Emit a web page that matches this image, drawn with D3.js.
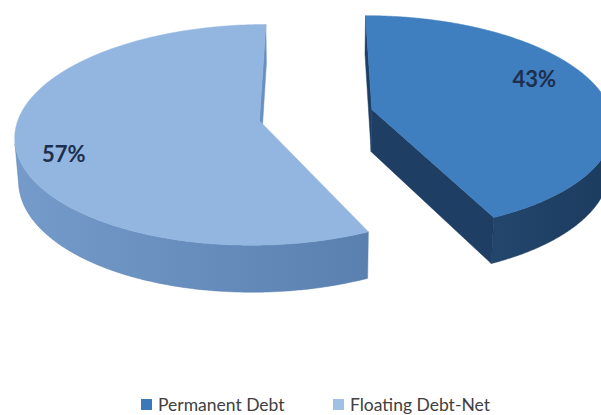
<!DOCTYPE html>
<html>
<head>
<meta charset="utf-8">
<script src="https://cdn.jsdelivr.net/npm/d3@7"></script>
<style>
  body { margin: 0; background: #fff; }
  svg { display: block; }
</style>
</head>
<body>
<div id="chart"></div>
<script>
// data
const categories = ["Permanent Debt", "Floating Debt-Net"];
const values = [43, 57];
const valueLabels = ["43%", "57%"];

const width = 601, height = 415;

// 3d view of the pie (radius = 1 unit)
const view = {
  cx: 316, cy: 115,        // screen position of pie centre (top face)
  scale: 240,              // px per radius unit at the centre
  dist: 7,                 // camera distance, radius units
  tilt: 26.5 * Math.PI / 180,
  thick: 0.2,
  explode: 0.24
};
const sinT = Math.sin(view.tilt), cosT = Math.cos(view.tilt);
const focal = view.scale * view.dist;
const cam = [0, view.dist * sinT, view.dist * cosT];

function depthOf(p) { return view.dist - p[1] * sinT - p[2] * cosT; }
function project(p) {
  const d = depthOf(p);
  return [view.cx + focal * p[0] / d, view.cy - focal * (p[1] * cosT - p[2] * sinT) / d];
}

const topColor  = d3.scaleOrdinal().domain(categories).range(["#3f7ebf", "#93b6e0"]);
const wallLight = d3.scaleOrdinal().domain(categories).range(["#23466c", "#749bca"]);
const wallDark  = d3.scaleOrdinal().domain(categories).range(["#1c3b5f", "#5a80af"]);
const cutColor  = d3.scaleOrdinal().domain(categories).range(["#1e3e63", "#6890c1"]);
const keyColor  = d3.scaleOrdinal().domain(categories).range(["#3b78b8", "#a0c0e4"]);

const svg = d3.select("#chart").append("svg")
  .attr("width", width)
  .attr("height", height)
  .style("background", "#fff");
const defs = svg.append("defs");

const rows = categories.map((c, i) => ({ name: c, value: values[i], label: valueLabels[i] }));
const arcs = d3.pie().sort(null).value(d => d.value)(rows);

const line = d3.line();
const step = Math.PI / 360;

arcs.forEach(a => {
  const mid = (a.startAngle + a.endAngle) / 2;
  a.ox = view.explode * Math.sin(mid);
  a.oz = -view.explode * Math.cos(mid);
});

// point of a slice: angle (clockwise from 12 o'clock), radius, height
function pt(a, ang, r, y) {
  return [a.ox + r * Math.sin(ang), y, a.oz - r * Math.cos(ang)];
}
function visible(p, n) {
  return (cam[0] - p[0]) * n[0] + (cam[1] - p[1]) * n[1] + (cam[2] - p[2]) * n[2] > 0;
}

// far slices first
const order = arcs.slice().sort((a, b) => depthOf([b.ox, 0, b.oz]) - depthOf([a.ox, 0, a.oz]));

const T = -view.thick;
const plot = svg.append("g");

order.forEach(a => {
  const key = a.data.name;
  const faces = [];
  const a0 = a.startAngle, a1 = a.endAngle;

  // radial cut faces
  [[a0, [-Math.cos(a0), 0, -Math.sin(a0)]], [a1, [Math.cos(a1), 0, Math.sin(a1)]]].forEach(([ang, n]) => {
    const pts = [pt(a, ang, 0, 0), pt(a, ang, 1, 0), pt(a, ang, 1, T), pt(a, ang, 0, T)];
    if (visible(pts[1], n)) faces.push({ pts, fill: cutColor(key) });
  });

  // outer wall: the part that faces the camera
  const nSeg = Math.ceil((a1 - a0) / step);
  const angs = d3.range(nSeg + 1).map(i => a0 + (a1 - a0) * i / nSeg);
  const seen = angs.filter(t => visible(pt(a, t, 1, 0), [Math.sin(t), 0, -Math.cos(t)]));
  if (seen.length > 1) {
    const pts = seen.map(t => pt(a, t, 1, 0)).concat(seen.slice().reverse().map(t => pt(a, t, 1, T)));
    const xs = pts.map(p => project(p)[0]);
    const gid = "wall-" + a.index;
    const grad = defs.append("linearGradient")
      .attr("id", gid)
      .attr("gradientUnits", "userSpaceOnUse")
      .attr("x1", d3.min(xs)).attr("x2", d3.max(xs))
      .attr("y1", 0).attr("y2", 0);
    grad.append("stop").attr("offset", 0).attr("stop-color", wallLight(key));
    grad.append("stop").attr("offset", 1).attr("stop-color", wallDark(key));
    faces.push({ pts, fill: `url(#${gid})`, edge: wallDark(key) });
  }

  faces.forEach(f => f.depth = d3.mean(f.pts, depthOf));
  faces.sort((p, q) => q.depth - p.depth);

  const g = plot.append("g").attr("class", "slice");
  g.selectAll("path.side")
    .data(faces)
    .enter().append("path")
    .attr("class", "side")
    .attr("d", f => line(f.pts.map(project)) + "Z")
    .attr("fill", f => f.fill)
    .attr("stroke", f => f.edge || f.fill)
    .attr("stroke-width", 0.5)
    .attr("stroke-linejoin", "round");

  // top face
  const topPts = [[a.ox, 0, a.oz]].concat(angs.map(t => pt(a, t, 1, 0)));
  g.append("path")
    .attr("class", "top")
    .attr("d", line(topPts.map(project)) + "Z")
    .attr("fill", topColor(key))
    .attr("stroke", topColor(key))
    .attr("stroke-width", 0.5)
    .attr("stroke-linejoin", "round");
});

// value labels on the top faces
svg.append("g").selectAll("text")
  .data(arcs)
  .enter().append("text")
  .attr("transform", a => {
    const mid = (a.startAngle + a.endAngle) / 2 - 9 * Math.PI / 180;
    const p = project(pt(a, mid, 0.8, 0));
    return `translate(${p[0]},${p[1]})`;
  })
  .attr("text-anchor", "middle")
  .attr("dx", "-0.3em")
  .attr("dy", "0.36em")
  .style("font-family", "Lato, 'Noto Sans', sans-serif")
  .style("font-weight", "bold")
  .style("font-size", "22px")
  .style("fill", "#1d2f4c")
  .text(a => a.data.label);

// legend
const legendLeft = [141, 333];
const legend = svg.append("g").attr("class", "legend");
const items = legend.selectAll("g")
  .data(categories)
  .enter().append("g")
  .attr("transform", (d, i) => `translate(${legendLeft[i]},0)`);

items.append("rect")
  .attr("width", 11)
  .attr("height", 11)
  .attr("y", 399)
  .attr("fill", d => keyColor(d));

items.append("text")
  .attr("x", 17)
  .attr("y", 411)
  .style("font-family", "Lato, 'Noto Sans', sans-serif")
  .style("font-size", "17.5px")
  .style("fill", "#404040")
  .text(d => d);
</script>
</body>
</html>
